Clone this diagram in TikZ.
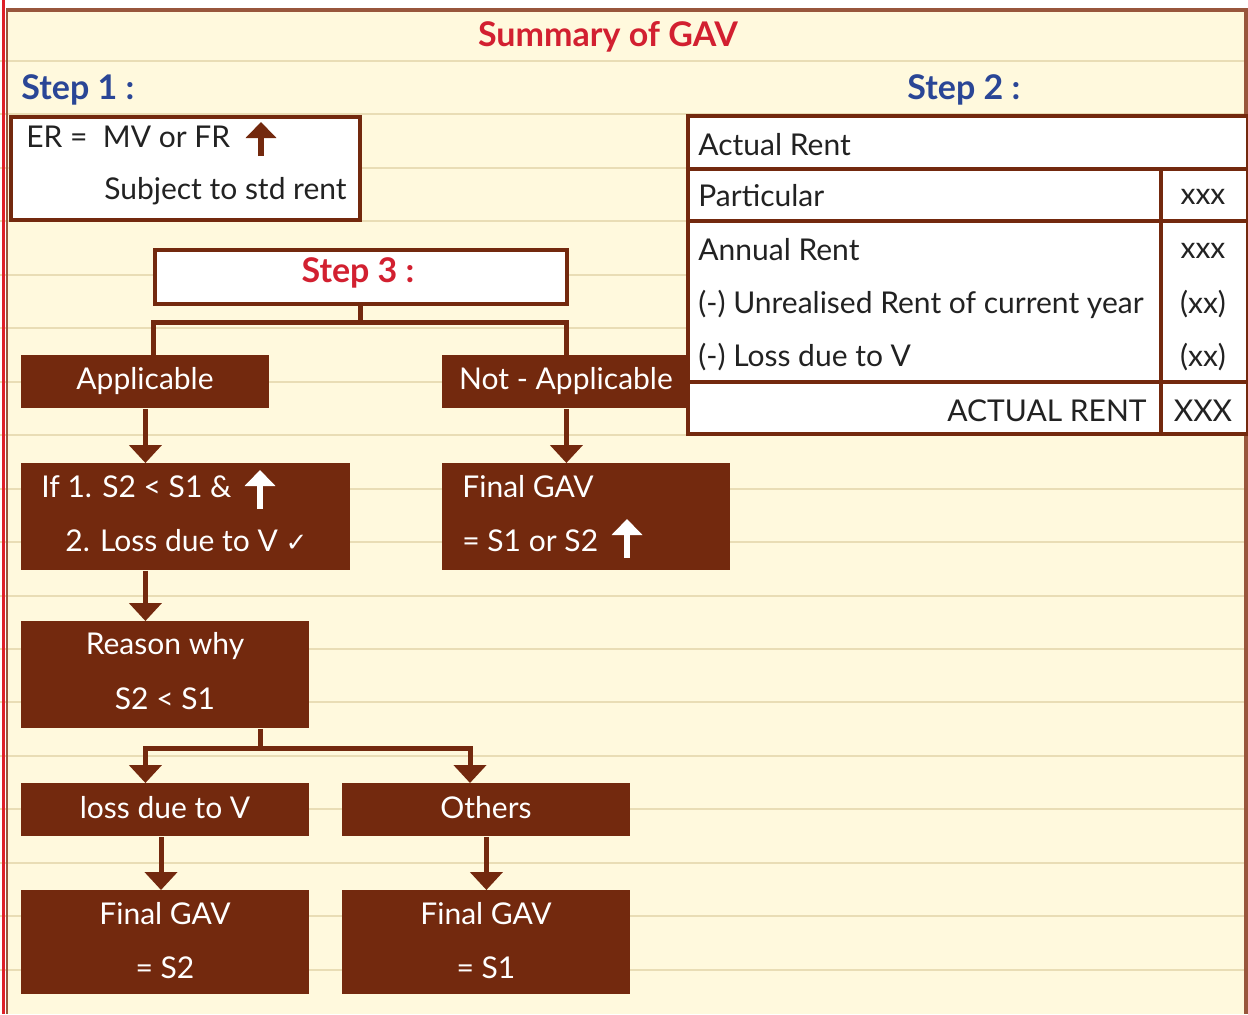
\documentclass[tikz,border=0pt]{standalone}
\usepackage{fontspec}
\setmainfont{Lato}
\newfontfamily\symfont{DejaVu Sans}
\usetikzlibrary{arrows.meta}

\definecolor{paper}{RGB}{255,249,221}
\definecolor{ruleline}{RGB}{233,221,181}
\definecolor{gavbrown}{RGB}{115,41,14}
\definecolor{framebrown}{RGB}{152,86,60}
\definecolor{titlered}{RGB}{210,32,48}
\definecolor{stepblue}{RGB}{42,70,150}
\definecolor{inkgrey}{RGB}{34,34,34}
\definecolor{marginred}{RGB}{222,32,40}

\newlength{\du}
\setlength{\du}{0.5pt}

\tikzset{
  darkbox/.style={fill=gavbrown, draw=none, text=white, inner sep=0pt, anchor=north west},
  whitebox/.style={fill=white, draw=gavbrown, line width=4\du, inner sep=0pt, anchor=north west},
  txt/.style={inner sep=0pt, font=\fontsize{15}{17}\selectfont, text=inkgrey},
  wtxt/.style={inner sep=0pt, font=\fontsize{15}{17}\selectfont, text=white},
  steplabel/.style={inner sep=0pt, font=\fontsize{17}{20}\selectfont\bfseries},
  link/.style={draw=gavbrown, line width=5\du},
  flow/.style={link, -{Triangle[width=16pt,length=9pt]}},
  upicon/.style={line width=6\du, -{Triangle[width=15pt,length=8pt]}},
}

\begin{document}
\begin{tikzpicture}
\pgftransformyscale{-1.000000}
\useasboundingbox (0\du,0\du) rectangle (1248\du,1014\du);
% paper
\fill[white] (0\du,0\du) rectangle (1248\du,1014\du);
\fill[paper] (6\du,10\du) rectangle (1248\du,1014\du);
\foreach \k in {0,...,17}
  \draw[ruleline, line width=2\du] (0\du,{(61+53.45*\k)*\du}) -- (1248\du,{(61+53.45*\k)*\du});
\draw[framebrown, line width=4\du] (6\du,10\du) -- (1246\du,10\du) -- (1246\du,1014\du);
\draw[framebrown, line width=2\du] (7\du,10\du) -- (7\du,1014\du);
\draw[marginred, line width=3\du] (3\du,0\du) -- (3\du,1014\du);

% headings
\node[steplabel, text=titlered] (title) at (608\du,37\du) {Summary of GAV};
\node[steplabel, text=stepblue, anchor=west] (step1) at (21\du,90\du) {Step 1 :};
\node[steplabel, text=stepblue, anchor=west] (step2) at (907\du,90\du) {Step 2 :};

% step 1
\node[whitebox, minimum width=349\du, minimum height=103\du] (erbox) at (9\du,115\du) {};
\node[txt, anchor=west] (ertext) at (26\du,137\du) {ER =\ \ MV or FR};
\node[txt, anchor=east] (stdrent) at (347\du,191\du) {Subject to std rent};
\draw[upicon, gavbrown] (261\du,156\du) -- (261\du,122\du);

% step 2 table
\node[whitebox, minimum width=560\du, minimum height=53\du] (actrow) at (686\du,114\du) {};
\node[whitebox, minimum width=473\du, minimum height=52\du] (partrow) at (686\du,167\du) {};
\node[whitebox, minimum width=87\du, minimum height=52\du] (partval) at (1159\du,167\du) {};
\node[whitebox, minimum width=473\du, minimum height=161\du] (rentrow) at (686\du,219\du) {};
\node[whitebox, minimum width=87\du, minimum height=161\du] (rentval) at (1159\du,219\du) {};
\node[whitebox, minimum width=473\du, minimum height=52\du] (totrow) at (686\du,380\du) {};
\node[whitebox, minimum width=87\du, minimum height=52\du] (totval) at (1159\du,380\du) {};
\node[txt, anchor=west] (actual) at (698\du,145\du) {Actual Rent};
\node[txt, anchor=west] (particular) at (698\du,196\du) {Particular};
\node[txt] (partx) at (1203\du,197\du) {xxx};
\node[txt, anchor=west] (annual) at (698\du,250\du) {Annual Rent};
\node[txt] (annualx) at (1203\du,251\du) {xxx};
\node[txt, anchor=west] (unreal) at (698\du,304\du) {(-) Unrealised Rent of current year};
\node[txt] (unrealx) at (1203\du,304\du) {(xx)};
\node[txt, anchor=west] (lossv) at (698\du,357\du) {(-) Loss due to V};
\node[txt] (lossvx) at (1203\du,357\du) {(xx)};
\node[txt, anchor=east] (acttotal) at (1147\du,411\du) {ACTUAL RENT};
\node[txt] (acttotalx) at (1203\du,411\du) {XXX};

% step 3
\node[whitebox, minimum width=412\du, minimum height=54\du] (step3) at (153\du,248\du) {};
\node[steplabel, text=titlered] (step3text) at (358\du,273\du) {Step 3 :};
\coordinate (split3) at (360\du,322\du);
\node[darkbox, minimum width=248\du, minimum height=53\du] (appl) at (21\du,355\du) {};
\node[wtxt] (appltext) at (145\du,381\du) {Applicable};
\node[darkbox, minimum width=248\du, minimum height=53\du] (notappl) at (442\du,355\du) {};
\node[wtxt] (notappltext) at (566\du,381\du) {Not - Applicable};
\draw[link] (step3.south -| split3) -- (split3);
\draw[link] (appl.north -| step3.west) |- (split3) -| (notappl.north);

% applicable branch
\node[darkbox, minimum width=329\du, minimum height=107\du] (ifbox) at (21\du,463\du) {};
\node[wtxt, anchor=west] (ifline1) at (41\du,487\du) {If 1. S2 < S1 \&};
\node[wtxt, anchor=west] (ifline2) at (65\du,541\du) {2. Loss due to V {\symfont\fontsize{13}{14}\selectfont ✓}};
\draw[upicon, white] (260\du,509\du) -- (260\du,470\du);
\draw[flow] (appl.south) -- (appl.south |- ifbox.north);

\node[darkbox, minimum width=288\du, minimum height=107\du] (reason) at (21\du,621\du) {};
\node[wtxt] (reason1) at (165\du,646\du) {Reason why};
\node[wtxt] (reason2) at (165\du,699\du) {S2 < S1};
\draw[flow] (ifbox.south -| appl.south) -- (reason.north -| appl.south);

\coordinate (split4) at (260\du,748\du);
\coordinate (othersaxis) at (470\du,0\du);
\coordinate (lossaxis) at (161\du,0\du);
\node[darkbox, minimum width=288\du, minimum height=53\du] (lossbox) at (21\du,783\du) {};
\node[wtxt] (losstext) at (165\du,808\du) {loss due to V};
\node[darkbox, minimum width=288\du, minimum height=53\du] (others) at (342\du,783\du) {};
\node[wtxt] (otherstext) at (486\du,808\du) {Others};
\draw[link] (reason.south -| split4) -- (split4);
\draw[flow] (split4) -| (lossbox.north -| appl.south);
\draw[flow] (split4) -| (others.north -| othersaxis);

\node[darkbox, minimum width=288\du, minimum height=104\du] (finals2) at (21\du,890\du) {};
\node[wtxt] (finals2a) at (165\du,914\du) {Final GAV};
\node[wtxt] (finals2b) at (165\du,968\du) {= S2};
\node[darkbox, minimum width=288\du, minimum height=104\du] (finals1) at (342\du,890\du) {};
\node[wtxt] (finals1a) at (486\du,914\du) {Final GAV};
\node[wtxt] (finals1b) at (486\du,968\du) {= S1};
\draw[flow] (lossbox.south -| lossaxis) -- (finals2.north -| lossaxis);
\draw[flow] (others.south) -- (finals1.north);

% not applicable branch
\node[darkbox, minimum width=288\du, minimum height=107\du] (finalmax) at (442\du,463\du) {};
\node[wtxt, anchor=west] (finalmax1) at (462\du,487\du) {Final GAV};
\node[wtxt, anchor=west] (finalmax2) at (462\du,541\du) {= S1 or S2};
\draw[upicon, white] (627\du,558\du) -- (627\du,519\du);
\draw[flow] (notappl.south) -- (notappl.south |- finalmax.north);
\end{tikzpicture}
\end{document}
